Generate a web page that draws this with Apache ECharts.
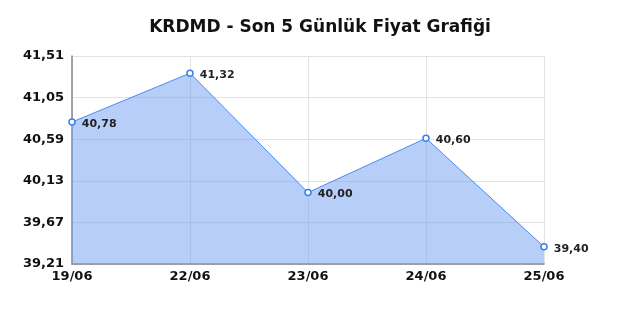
<!DOCTYPE html>
<html>
<head>
<meta charset="utf-8">
<script src="https://cdn.jsdelivr.net/npm/echarts@6/dist/echarts.min.js"></script>
<style>
  html, body { margin: 0; padding: 0; background: #fff; }
  #chart { width: 640px; height: 320px; }
</style>
</head>
<body>
<div id="chart"></div>
<script>
var days = ['19/06', '22/06', '23/06', '24/06', '25/06'];
var prices = [40.78, 41.32, 40.00, 40.60, 39.40];
var yMin = 39.21;
var yMax = 41.51;
var yStep = 0.46;

function trNum(v) {
    return v.toFixed(2).replace('.', ',');
}

var option = {
    animation: false,
    title: {
        text: 'KRDMD - Son 5 Günlük Fiyat Grafiği',
        left: 'center',
        top: 14,
        textStyle: {
            fontFamily: 'DejaVu Sans',
            fontSize: 17,
            fontWeight: 'bold',
            color: '#111'
        }
    },
    grid: {
        left: 72,
        right: 96,
        top: 56,
        bottom: 56
    },
    xAxis: {
        type: 'category',
        data: days,
        boundaryGap: false,
        axisLine: { lineStyle: { color: '#888', width: 1.5 } },
        axisTick: { show: false },
        axisLabel: {
            fontFamily: 'DejaVu Sans',
            fontSize: 13,
            fontWeight: 'bold',
            color: '#111',
            margin: 6
        },
        splitLine: { show: true, lineStyle: { color: '#e3e3e3' } }
    },
    yAxis: {
        type: 'value',
        min: yMin,
        max: yMax,
        interval: yStep,
        axisLine: { show: true, lineStyle: { color: '#888', width: 1.5 } },
        axisTick: { show: false },
        axisLabel: {
            fontFamily: 'DejaVu Sans',
            fontSize: 13,
            fontWeight: 'bold',
            color: '#111',
            margin: 8,
            formatter: function (v) { return trNum(v); }
        },
        splitLine: { show: true, lineStyle: { color: '#e3e3e3' } }
    },
    series: [{
        type: 'line',
        data: prices,
        symbol: 'circle',
        symbolSize: 6,
        showAllSymbol: true,
        itemStyle: { color: '#fff', borderColor: '#3a7ff0', borderWidth: 1.5 },
        lineStyle: { color: '#4a8af4', width: 1 },
        areaStyle: { color: 'rgb(111,159,241)', opacity: 0.5 },
        label: {
            show: true,
            position: 'right',
            distance: 6,
            offset: [0, 2],
            fontFamily: 'DejaVu Sans',
            fontSize: 11,
            fontWeight: 'bold',
            color: '#222',
            formatter: function (p) { return trNum(p.value); }
        }
    }]
};

echarts.init(document.getElementById('chart')).setOption(option);
</script>
</body>
</html>
